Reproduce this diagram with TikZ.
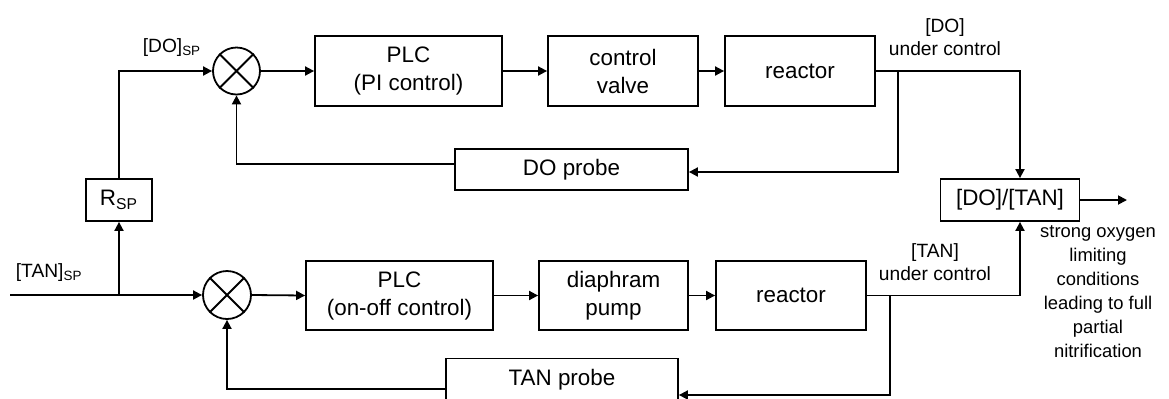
\documentclass[tikz,border=0pt]{standalone}
\usepackage{fontspec}
\setmainfont{Liberation Sans}
\usetikzlibrary{arrows.meta}
\begin{document}
\begin{tikzpicture}[x=0.5pt,y=-0.5pt,
  line width=0.9pt,
  arr/.style={-{Triangle[length=4.5pt,width=4.5pt]}},
  blk/.style={draw,rectangle,inner sep=0pt,align=center,font=\fontsize{11.2}{14}\selectfont},
  sumj/.style={draw,circle,inner sep=0pt,minimum size=23.5pt},
  lbl/.style={align=center,inner sep=0pt,font=\fontsize{9.6}{11.5}\selectfont},
  note/.style={align=center,inner sep=0pt,font=\fontsize{9.2}{12}\selectfont}]
\useasboundingbox (0,0) rectangle (1169,398);
% top loop
\node[sumj] (s1) at (236.5,71) {};
\draw (s1.45) -- (s1.225) (s1.135) -- (s1.315);
\node[blk,minimum width=93.5pt,minimum height=35pt] (plc1) at (408.5,71) {PLC\\(PI control)};
\node[blk,minimum width=75pt,minimum height=35pt] (cv) at (623,71) {control\\valve};
\node[blk,minimum width=75pt,minimum height=35pt] (r1) at (800,71) {reactor};
\node[blk,minimum width=116.5pt,minimum height=20.5pt] (dop) at (571.5,169.5) {DO probe};
\node[blk,minimum width=33pt,minimum height=21pt] (rsp) at (119,200) {R\textsubscript{SP}};
\node[blk,minimum width=69.5pt,minimum height=21pt] (dotan) at (1010,200) {[DO]/[TAN]};
% bottom loop
\node[sumj,minimum size=24pt] (s2) at (227,295) {};
\draw (s2.45) -- (s2.225) (s2.135) -- (s2.315);
\node[blk,minimum width=93.5pt,minimum height=34.5pt] (plc2) at (399.5,295.5) {PLC\\(on-off control)};
\node[blk,minimum width=74.5pt,minimum height=34.5pt] (dp) at (613.5,295.5) {diaphram\\pump};
\node[blk,minimum width=75pt,minimum height=34.5pt] (r2) at (791,295.5) {reactor};
\node[blk,minimum width=116pt,minimum height=21.5pt] (tanp) at (562,380) {TAN probe};
% coordinates
\coordinate (in1) at (10,295);
\coordinate (j0) at (119,295);
\coordinate (b1) at (898,71);
\coordinate (b2) at (890,295);
\coordinate (out) at (1127,200);
% connectors top
\draw[arr] (rsp.north) |- (s1.west);
\draw[arr] (s1.east) -- (plc1.west);
\draw[arr] (plc1.east) -- (cv.west);
\draw[arr] (cv.east) -- (r1.west);
\draw[arr] (r1.east) -| ([xshift=5pt]dotan.north);
\draw[arr] (b1) |- ([yshift=-1.25pt]dop.east);
\draw[arr] ([yshift=2.75pt]dop.west) -| (s1.south);
% connectors bottom
\draw[arr] (in1) -- (s2.west);
\draw[arr] (j0) -- (rsp.south);
\draw[arr] (s2.east) -- (plc2.west);
\draw[arr] (plc2.east) -- (dp.west);
\draw[arr] (dp.east) -- (r2.west);
\draw[arr] (r2.east) -| ([xshift=5pt]dotan.south);
\draw[arr] (b2) |- ([yshift=-7.5pt]tanp.east);
\draw[arr] ([yshift=-4.5pt]tanp.west) -| (s2.south);
\draw[arr] (dotan.east) -- (out);
% labels
\node[lbl] (ldosp) at (172,48) {[DO]\textsubscript{SP}};
\node[lbl,anchor=west] (ltansp) at (15,273) {[TAN]\textsubscript{SP}};
\node[lbl] (ldo) at (945,37) {[DO]\\under control};
\node[lbl] (ltan) at (935,262) {[TAN]\\under control};
\node[note] (lnote) at (1098,292) {strong oxygen\\limiting\\conditions\\leading to full\\partial\\nitrification};
\end{tikzpicture}
\end{document}
